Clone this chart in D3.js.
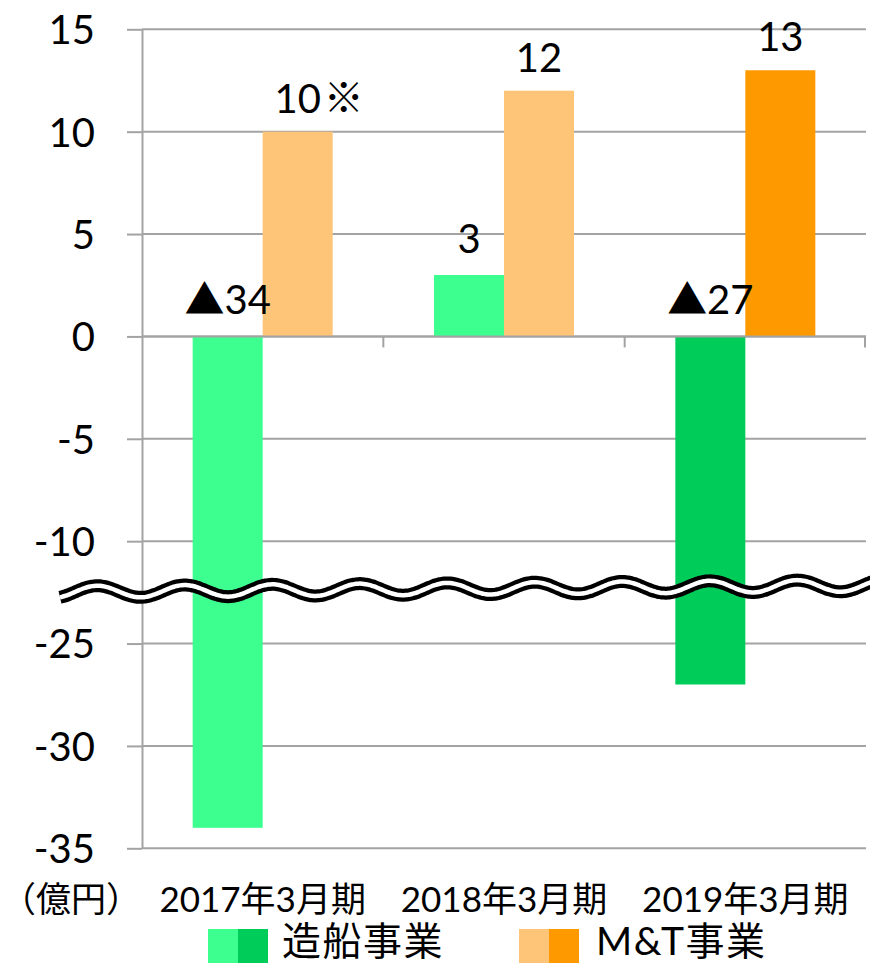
<!DOCTYPE html>
<html><head><meta charset="utf-8">
<script src="https://cdn.jsdelivr.net/npm/d3@7"></script>
<style>
html,body{margin:0;padding:0;background:#fff;}
svg text{fill:#000;}
</style></head>
<body>
<svg id="chart" width="870" height="964" font-family="Lato,'Noto Sans CJK JP',sans-serif"></svg>
<script>
const categories = ["2017年3月期", "2018年3月期", "2019年3月期"];
const seriesNames = ["造船事業", "M&T事業"];
const shipbuilding = [-34, 3, -27];
const mt = [10, 12, 13];
const shipLabels = ["▲34", "3", "▲27"];
const mtLabels = ["10", "12", "13"];
const tickValues = [15, 10, 5, 0, -5, -10, -25, -30, -35];
const shipColors = ["#3dff8f", "#3dff8f", "#00cc5a"];
const mtColors = ["#fec578", "#fec578", "#ff9900"];

const svg = d3.select("#chart");
const x0 = 142, x1 = 866;
const yTop = 29.3, yBot = 848.3;
const step = (yBot - yTop) / 8;
// broken axis: -35..-25 and -10..15, the gap -25..-10 drawn as one interval
const y = d3.scaleLinear()
  .domain([-35, -25, -10, 15])
  .range([yBot, yBot - 2 * step, yBot - 3 * step, yTop]);

const xb = d3.scaleBand().domain(categories).range([x0, x1]).padding(0);
const bw = xb.bandwidth();
const barW = 70;
const pOuter = (bw / barW - 2) / 2;
const xs = d3.scaleBand().domain(seriesNames).range([0, bw]).paddingInner(0).paddingOuter(pOuter);

const gridColor = "#a3a3a3";
// grid
svg.append("g").selectAll("line").data(tickValues).join("line")
  .attr("x1", x0).attr("x2", x1)
  .attr("y1", d => y(d)).attr("y2", d => y(d))
  .attr("stroke", gridColor).attr("stroke-width", 2);

// y axis
const yAxis = svg.append("g").attr("transform", `translate(${x0},0)`)
  .call(d3.axisLeft(y).tickValues(tickValues).tickSizeInner(15).tickSizeOuter(0).tickPadding(32).tickFormat(d => d));
yAxis.attr("font-family", null).attr("font-size", null);
yAxis.select(".domain").attr("stroke", gridColor).attr("stroke-width", 2);
yAxis.selectAll(".tick line").attr("stroke", gridColor).attr("stroke-width", 2);
yAxis.selectAll(".tick text").attr("font-size", 40).attr("fill", "#000").attr("dy", "0.36em");

// bars
const gBars = svg.append("g");
categories.forEach((c, i) => {
  const vals = [shipbuilding[i], mt[i]];
  const cols = [shipColors[i], mtColors[i]];
  vals.forEach((v, j) => {
    const bx = xb(c) + xs(seriesNames[j]);
    gBars.append("rect")
      .attr("x", bx).attr("width", xs.bandwidth())
      .attr("y", Math.min(y(v), y(0))).attr("height", Math.abs(y(v) - y(0)))
      .attr("fill", cols[j]);
  });
});

// zero line redraw + x ticks
svg.append("line").attr("x1", x0).attr("x2", x1).attr("y1", y(0)).attr("y2", y(0))
  .attr("stroke", gridColor).attr("stroke-width", 2);
svg.append("g").selectAll("line").data(categories.slice(1).map(c => xb(c)).concat([x1 - 1]))
  .join("line").attr("x1", d => d).attr("x2", d => d)
  .attr("y1", y(0)).attr("y2", y(0) + 11)
  .attr("stroke", gridColor).attr("stroke-width", 2);

// data labels
const gLab = svg.append("g").attr("font-size", 40).attr("text-anchor", "middle");
categories.forEach((c, i) => {
  const sx = xb(c) + xs(seriesNames[0]) + xs.bandwidth() / 2;
  const mx = xb(c) + xs(seriesNames[1]) + xs.bandwidth() / 2;
  const sv = shipbuilding[i];
  const sy = sv >= 0 ? y(sv) - 22 : y(0) - 22;
  gLab.append("text").attr("x", sx).attr("y", sy).text(shipLabels[i]);
  gLab.append("text").attr("x", mx).attr("y", y(mt[i]) - 19).text(mtLabels[i]);
  if (i === 0) {
    gLab.append("text").attr("x", mx + 26).attr("y", y(mt[i]) - 20)
      .attr("text-anchor", "start").attr("font-size", 40)
      .attr("font-family", "'Noto Sans CJK JP',sans-serif").text("※");
  }
});

// break wave
const wavePts = d3.range(60, 874, 2).map(px => [px, 592 - 0.008 * (px - 60) - 6 * Math.cos(2 * Math.PI * (px - 97) / 87.5)]);
const waveLine = d3.line().curve(d3.curveBasis);
svg.append("path").attr("d", waveLine(wavePts)).attr("fill", "none").attr("stroke", "#000").attr("stroke-width", 13);
svg.append("path").attr("d", waveLine(wavePts)).attr("fill", "none").attr("stroke", "#fff").attr("stroke-width", 4.5);

// category labels
svg.append("g").selectAll("text").data(categories).join("text")
  .attr("x", d => xb(d) + bw / 2).attr("y", 912).attr("text-anchor", "middle")
  .attr("font-size", 35).text(d => d);
svg.append("text").attr("x", 1).attr("y", 912).attr("font-size", 35)
  .text("（億円）");

// legend
const legend = [
  {name: seriesNames[0], cols: [shipColors[0], shipColors[2]], x: 208, tx: 282},
  {name: seriesNames[1], cols: [mtColors[0], mtColors[2]], x: 519, tx: 596}
];
const lg = svg.append("g");
legend.forEach(l => {
  lg.append("rect").attr("x", l.x).attr("y", 929).attr("width", 30).attr("height", 34).attr("fill", l.cols[0]);
  lg.append("rect").attr("x", l.x + 30).attr("y", 929).attr("width", 30).attr("height", 34).attr("fill", l.cols[1]);
  lg.append("text").attr("x", l.tx).attr("y", 955).attr("font-size", 39).attr("letter-spacing", 1.5).text(l.name);
});
</script>
</body></html>
